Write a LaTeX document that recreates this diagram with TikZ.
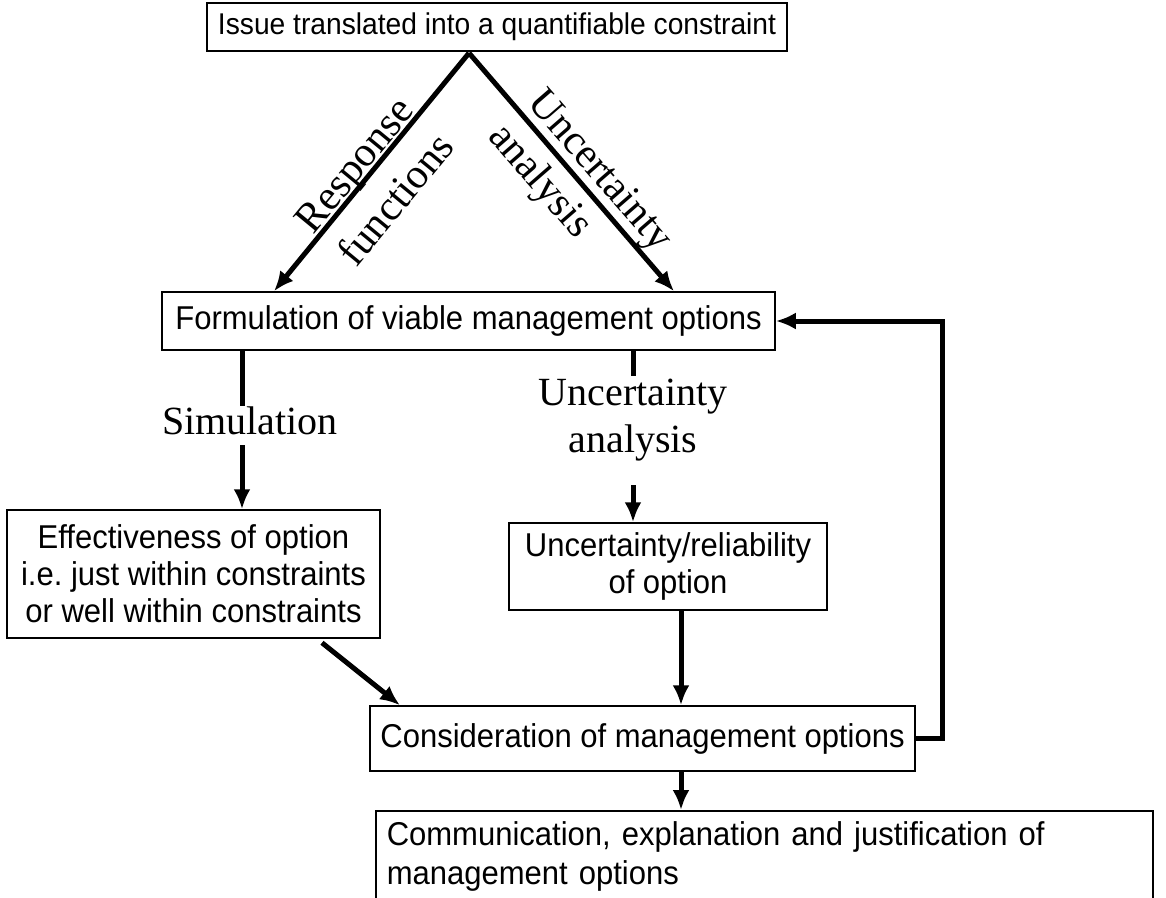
\documentclass[tikz,border=0pt]{standalone}
\usepackage{fontspec}
\setmainfont{Liberation Serif}
\newfontfamily\sansf[FakeStretch=0.94]{Liberation Sans}
\usetikzlibrary{arrows.meta}
\frenchspacing
\begin{document}
\begin{tikzpicture}[x=1pt,y=-1pt,
  box/.style={draw,line width=1.5pt,inner sep=0pt,align=center,
    font=\sansf\fontsize{33}{37}\selectfont},
  arr/.style={line width=5pt,-{Latex[length=20pt,width=17pt]}},
  stub/.style={line width=5pt},
  lbl/.style={inner sep=0pt,font=\fontsize{41}{52}\selectfont}]
\clip (0,0) rectangle (1166,897);
\fill[white] (0,0) rectangle (1166,897);

% boxes
\node[box,minimum width=580pt,minimum height=48pt,font=\sansf\fontsize{30}{34}\selectfont] (top) at (497,27) {Issue translated into a quantifiable constraint};
\node[box,minimum width=613pt,minimum height=58pt] (form) at (468.5,321) {Formulation of viable management options};
\node[box,minimum width=373pt,minimum height=128pt] (eff) at (193.5,574) {Effectiveness of option\\i.e. just within constraints\\or well within constraints};
\node[box,minimum width=318pt,minimum height=87pt] (unc) at (668,566.5) {Uncertainty/reliability\\of option};
\node[box,minimum width=545pt,minimum height=65pt] (cons) at (642.5,738.5) {Consideration of management options};
\node[box,anchor=north west,minimum width=777pt,minimum height=92pt,text width=755pt,align=left,inner xsep=11pt,
  font=\sansf\fontsize{33}{39}\selectfont] (comm) at (375,810) {Communication, explanation and justification of\\management options};

% labels
\node[lbl,font=\fontsize{40}{48}\selectfont] (sim) at (250,421) {Simulation};
\node[lbl,align=center,font=\fontsize{40}{47}\selectfont] (ua) at (633,420) {Uncertainty\\analysis};
\node[lbl,align=center,rotate=50.5,font=\fontsize{42}{54}\selectfont] (rf) at (375,182) {Response\\functions};
\node[lbl,align=left,rotate=-49,font=\fontsize{42}{52}\selectfont] (ua2) at (579,189) {Uncertainty\\analysis};

% connectors
\coordinate (apex) at (469,53);
\draw[arr] (apex) -- (form.north -| 274,0);
\draw[arr] (apex) -- (form.north -| 674,0);

\draw[stub] (form.south -| 242,0) -- ++(0,55);
\draw[arr] (sim.south -| 242,0) ++(0,10) -- (eff.north -| 242,0);

\draw[stub] (form.south -| 633,0) -- ++(0,25);
\draw[arr] (633,485) -- (unc.north -| 633,0);

\draw[arr] (eff.south -| 322,0) ++(0,4) -- (cons.north -| 400,0);
\draw[arr] (unc.south -| 681,0) -- (cons.north -| 681,0);
\draw[arr] (cons.south -| 681,0) -- (comm.north -| 681,0);

\draw[arr] (cons.east) -- ++(27,0) |- (form.east);
\end{tikzpicture}
\end{document}
